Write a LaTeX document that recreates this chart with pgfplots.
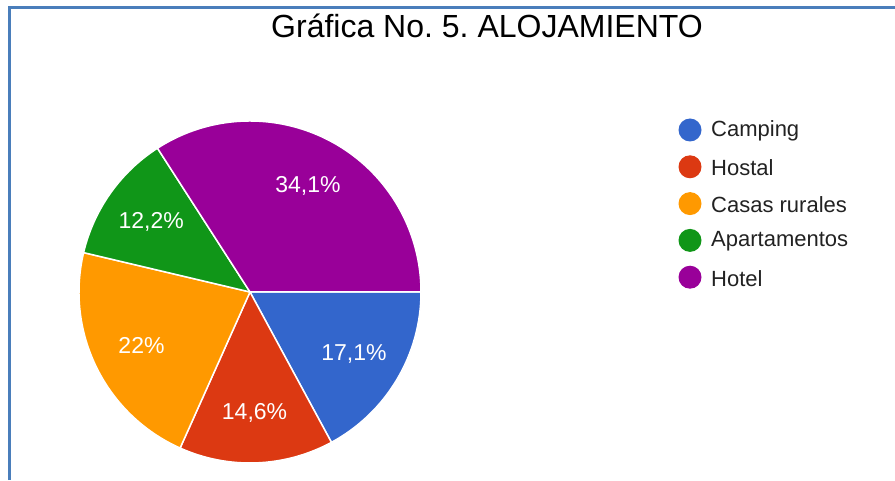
\documentclass[border=0pt]{standalone}
\usepackage{fontspec}
\setmainfont{Liberation Sans}
\usepackage{pgfplots}
\usepackage{pgfplotstable}
\pgfplotsset{compat=1.18}
\usetikzlibrary{calc}
\frenchspacing

\definecolor{cCamp}{HTML}{3366CC}
\definecolor{cHost}{HTML}{DC3912}
\definecolor{cCasa}{HTML}{FF9900}
\definecolor{cApar}{HTML}{109618}
\definecolor{cHote}{HTML}{990099}
\definecolor{frameblue}{HTML}{4A7EBB}
\definecolor{legtext}{HTML}{222222}

% share of answers, in percent, clockwise from 3 o'clock
\pgfplotstableread[col sep=comma]{
name,value,color
Camping,17.1,cCamp
Hostal,14.6,cHost
Casas rurales,22,cCasa
Apartamentos,12.2,cApar
Hotel,34.1,cHote
}\datatable

\newcommand\labfont{\fontsize{23}{23}\selectfont}
\newcommand\legfont{\fontsize{22}{22}\selectfont}

\begin{document}
\begin{tikzpicture}
\begin{axis}[
  at={(0,0)}, anchor=south west,
  scale only axis,
  width=895pt, height=480pt,
  xmin=0, xmax=895, ymin=0, ymax=480,
  hide axis,
  clip=false,
]
% frame
\draw[frameblue, line width=3pt] (axis cs:9.5,0) -- (axis cs:9.5,472.5) -- (axis cs:895,472.5);
% title
\node[font=\fontsize{32}{32}\selectfont, text=black, anchor=base, inner sep=0pt] at (axis cs:487,442) {Gráfica No. 5. ALOJAMIENTO};

\pgfplotstablegetrowsof{\datatable}
\pgfmathtruncatemacro\N{\pgfplotsretval-1}
\def\angA{0}
\pgfplotsforeachungrouped \i in {0,...,\N}{
  \pgfplotstablegetelem{\i}{value}\of\datatable \let\val\pgfplotsretval
  \pgfplotstablegetelem{\i}{color}\of\datatable \let\col\pgfplotsretval
  \pgfplotstablegetelem{\i}{name}\of\datatable \let\nam\pgfplotsretval
  \pgfmathsetmacro\angB{\angA-3.6*\val}
  \pgfmathsetmacro\angM{(\angA+\angB)/2}
  \pgfmathsetmacro\legy{350-36.8*\i}
  \edef\cmd{%
    \noexpand\fill[\col, draw=white, line width=1.5pt]
      (axis cs:250,188) -- ++(\angA:171pt)
      arc[start angle=\angA, end angle=\angB, radius=171pt] -- cycle;
    \noexpand\node[text=white, font=\noexpand\labfont]
      at ($(axis cs:250,188)+(\angM:121pt)$)
      {\noexpand\pgfmathprintnumber[use comma,fixed,precision=1,assume math mode=true]{\val}\noexpand\%};
    \noexpand\fill[\col] (axis cs:690,\legy) circle[radius=11.5pt];
    \noexpand\node[anchor=west, text=legtext, font=\noexpand\legfont, inner sep=0pt]
      at (axis cs:711,\legy-1) {\nam};
  }
  \cmd
  \global\let\angA\angB
}
\end{axis}
\pgfresetboundingbox
\path[use as bounding box] (0,0) rectangle (895pt,480pt);
\end{tikzpicture}
\end{document}
